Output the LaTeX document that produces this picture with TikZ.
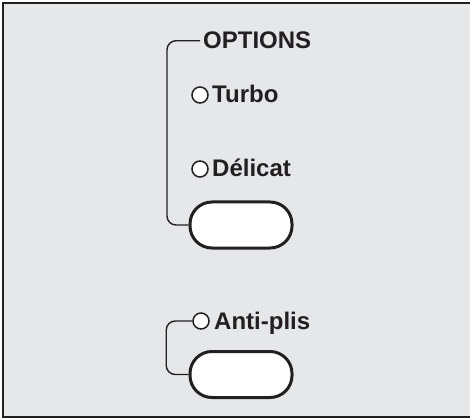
\documentclass[tikz,border=0pt]{standalone}
\usepackage{fontspec}
\setmainfont{Liberation Sans}
\definecolor{panel}{HTML}{E6E7E8}
\definecolor{ink}{HTML}{231F20}

\begin{document}
\begin{tikzpicture}[x=1pt,y=-1pt,
    label/.style={anchor=base west,inner sep=0pt,font=\fontsize{24}{29}\bfseries\selectfont,text=ink},
    led/.style={circle,draw=ink,line width=1.5pt,fill=white,minimum size=16pt,inner sep=0pt},
    button/.style={rectangle,rounded corners=22pt,draw=ink,line width=3pt,fill=white,minimum width=102pt,minimum height=46pt},
    bracket/.style={draw=ink,line width=1.4pt,rounded corners=9pt}]
    \useasboundingbox (0,0) rectangle (470,419);
    \clip (0,0) rectangle (470,419);
    \draw[ink,fill=panel,line width=2.5pt] (3,3) rectangle (480,417);
    \node[label] (opt) at (203,49) {OPTIONS};
    \node[label] (turbo) at (212,103) {Turbo};
    \node[label] (delicat) at (212,177) {Délicat};
    \node[label] (anti) at (214,329) {Anti-plis};
    \node[led] (ledturbo) at (200,95) {};
    \node[led] (leddelicat) at (200,169) {};
    \node[led] (ledanti) at (201,321) {};
    \node[button] (btnopt) at (241,225) {};
    \node[button] (btnanti) at (241,374.5) {};
    \draw[bracket] ([xshift=-3pt]opt.west) -- +(-33,0) |- (btnopt.west);
    \draw[bracket] (ledanti.west) -- +(-26,0) |- (btnanti.west);
\end{tikzpicture}
\end{document}
